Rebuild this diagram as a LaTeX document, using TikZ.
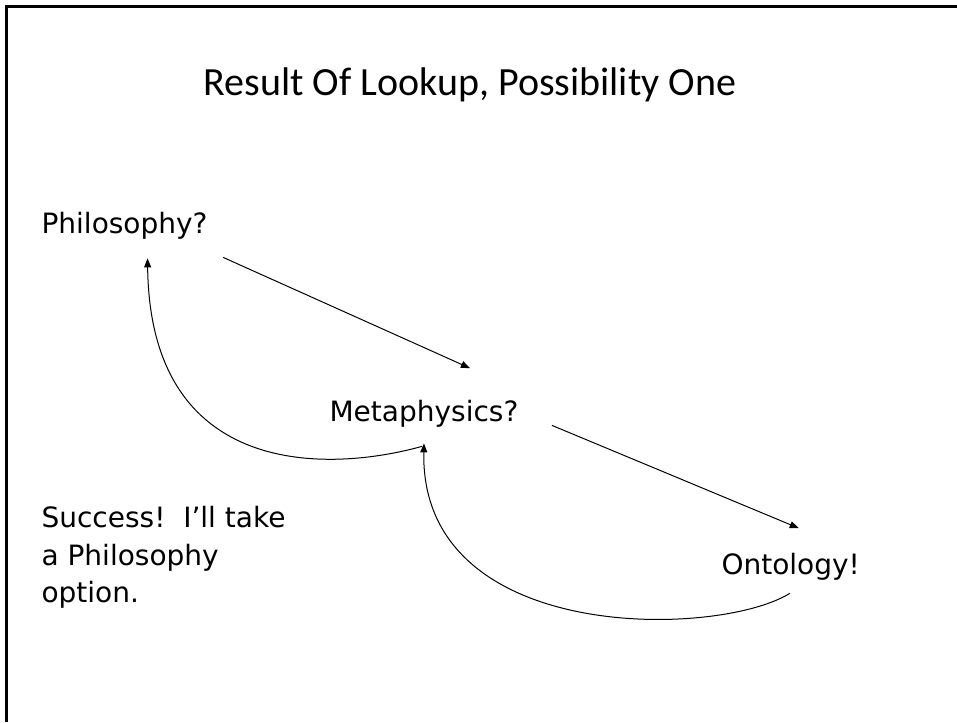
\documentclass[tikz,border=0pt]{standalone}
\usepackage{fontspec}
\setmainfont{DejaVu Sans}
\newfontfamily\titlefont{Carlito}
\usepackage{tikz}
\usetikzlibrary{arrows.meta}

\begin{document}
\begin{tikzpicture}[x=1pt,y=-1pt,>={Triangle[length=9pt,width=7pt]},line width=1.1pt,
  font=\fontsize{28}{37.5}\selectfont,
  word/.style={inner sep=0pt,anchor=base west},
  link/.style={->,line width=1pt}]
 \useasboundingbox (0,0) rectangle (957,722);
 \draw[line width=3pt,line join=miter] (6.5,722) |- (957,6.5);
 \node[word,font=\titlefont\fontsize{40}{48}\selectfont] (title) at (203,96) {Result Of Lookup, Possibility One};
 \node[word] (phil) at (41,233) {Philosophy?};
 \node[word] (meta) at (329,421) {Metaphysics?};
 \node[word] (onto) at (721,574) {Ontology!};
 \node[word,anchor=north west,align=left] (note) at (41,505.7) {Success!\ \ I'll take\\a Philosophy\\option.};
 \draw[link] ([shift={(15,18)}]phil.south east) -- ([shift={(46,-31)}]meta.north);
 \draw[link] ([shift={(33,-2)}]meta.south east) -- ([shift={(8,-24)}]onto.north);
 \draw[link] ([shift={(-2,19)}]meta.south) .. controls (330,472) and (150,480) .. ([shift={(23,19)}]phil.south);
 \draw[link] ([shift={(-1,13)}]onto.south) .. controls (718,638) and (420,645) .. ([shift={(0,16)}]meta.south);
\end{tikzpicture}
\end{document}
